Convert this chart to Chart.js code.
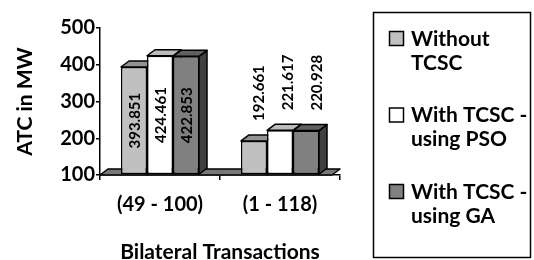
<!DOCTYPE html>
<html>
<head>
<meta charset="utf-8">
<script src="https://cdn.jsdelivr.net/npm/chart.js@4.4.0/dist/chart.umd.min.js"></script>
<style>
  html, body { margin: 0; padding: 0; background: #fff; }
  #wrap { width: 534px; height: 260px; }
</style>
</head>
<body>
<div id="wrap"><canvas id="atcChart" width="534" height="260"></canvas></div>
<script>
    // datos
    const categories = ['(49 - 100)', '(1 - 118)'];
    const seriesNames = [['Without', 'TCSC'], ['With TCSC -', 'using PSO'], ['With TCSC -', 'using GA']];
    const withoutTcsc = [393.851, 192.661];
    const withPso = [424.461, 221.617];
    const withGa = [422.853, 220.928];
    const yTicks = [100, 200, 300, 400, 500];

    const FONT = 'Lato';
    const DX = 8, DY = 6; // profundidad del efecto 3D

    // colores: frente, arriba, lado
    const faceColors = [
        ['#c0c0c0', '#929292', '#8c8c8c'],
        ['#ffffff', '#bcbcbc', '#b0b0b0'],
        ['#808080', '#606060', '#404040']
    ];

    function poly(ctx, pts, fill) {
        ctx.beginPath();
        ctx.moveTo(pts[0][0], pts[0][1]);
        for (let i = 1; i < pts.length; i++) ctx.lineTo(pts[i][0], pts[i][1]);
        ctx.closePath();
        ctx.fillStyle = fill;
        ctx.fill();
        ctx.stroke();
    }

    // piso y caras superiores / laterales de las barras
    const box3d = {
        id: 'box3d',
        beforeDatasetsDraw(chart) {
            const ctx = chart.ctx;
            const area = chart.chartArea;
            ctx.save();
            ctx.strokeStyle = '#000';
            ctx.lineWidth = 1.5;
            ctx.lineJoin = 'round';
            const yb = area.bottom;
            poly(ctx, [[area.left, yb], [area.right - DX, yb], [area.right, yb - DY], [area.left + DX, yb - DY]], '#777777');
            const n = chart.data.labels.length;
            for (let c = 0; c < n; c++) {
                chart.data.datasets.forEach((ds, i) => {
                    const bar = chart.getDatasetMeta(i).data[c];
                    const l = bar.x - bar.width / 2, r = bar.x + bar.width / 2;
                    const t = bar.y, b = Math.min(bar.base, yb);
                    poly(ctx, [[r, t], [r + DX, t - DY], [r + DX, b - DY], [r, b]], faceColors[i][2]);
                    poly(ctx, [[l, t], [l + DX, t - DY], [r + DX, t - DY], [r, t]], faceColors[i][1]);
                });
            }
            ctx.restore();
        }
    };

    // etiquetas de valores, giradas
    const valueLabels = {
        id: 'valueLabels',
        afterDatasetsDraw(chart) {
            const ctx = chart.ctx;
            ctx.save();
            ctx.font = 'bold 15px ' + FONT;
            ctx.fillStyle = '#000';
            chart.data.datasets.forEach((ds, i) => {
                chart.getDatasetMeta(i).data.forEach((bar, j) => {
                    const txt = ds.data[j].toFixed(3);
                    const w = ctx.measureText(txt).width;
                    const h = bar.base - bar.y;
                    ctx.save();
                    if (w + 12 < h) {
                        ctx.translate(bar.x + 1, (bar.y + bar.base) / 2);
                        ctx.rotate(-Math.PI / 2);
                        ctx.textAlign = 'center';
                    } else {
                        ctx.translate(bar.x + 5 + i * 3, bar.y - DY - 14);
                        ctx.rotate(-Math.PI / 2);
                        ctx.textAlign = 'left';
                    }
                    ctx.textBaseline = 'middle';
                    ctx.fillText(txt, 0, 0);
                    ctx.restore();
                });
            });
            ctx.restore();
        }
    };

    // leyenda con recuadro
    const boxLegend = {
        id: 'boxLegend',
        afterDraw(chart) {
            const ctx = chart.ctx;
            ctx.save();
            ctx.strokeStyle = '#000';
            ctx.lineWidth = 1.5;
            ctx.strokeRect(373.5, 12.5, 157, 245);
            ctx.font = 'bold 21px ' + FONT;
            ctx.textBaseline = 'middle';
            ctx.textAlign = 'left';
            chart.data.datasets.forEach((ds, i) => {
                const y0 = 39 + i * 76.5;
                ctx.fillStyle = ds.backgroundColor;
                ctx.fillRect(389.5, y0 - 7.5, 14, 14);
                ctx.strokeRect(389.5, y0 - 7.5, 14, 14);
                ctx.fillStyle = '#000';
                seriesNames[i].forEach((line, k) => ctx.fillText(line, 411, y0 + k * 24));
            });
            ctx.restore();
        }
    };

    const barStyle = { base: 100, borderColor: '#000', borderWidth: 1.5, borderSkipped: false, categoryPercentage: 0.65, barPercentage: 1 };

    new Chart(document.getElementById('atcChart'), {
        type: 'bar',
        data: {
            labels: categories,
            datasets: [
                Object.assign({ label: seriesNames[0].join(' '), data: withoutTcsc, backgroundColor: faceColors[0][0] }, barStyle),
                Object.assign({ label: seriesNames[1].join(' '), data: withPso, backgroundColor: faceColors[1][0] }, barStyle),
                Object.assign({ label: seriesNames[2].join(' '), data: withGa, backgroundColor: faceColors[2][0] }, barStyle)
            ]
        },
        options: {
            responsive: false,
            animation: false,
            layout: { padding: { top: 28, right: 194, left: 0, bottom: 0 } },
            scales: {
                x: {
                    afterFit: s => { s.height = 85; },
                    grid: { offset: true, drawOnChartArea: false, tickLength: 5, color: '#000', lineWidth: 1.5 },
                    border: { color: '#000', width: 1.5 },
                    ticks: { color: '#000', font: { family: FONT, size: 20, weight: 'bold' }, padding: 13 },
                    title: { display: true, text: 'Bilateral Transactions', color: '#000',
                             font: { family: FONT, size: 21, weight: 'bold' }, padding: { top: 0, bottom: -5 } }
                },
                y: {
                    min: 100,
                    max: 500,
                    afterFit: s => { s.width = 100; },
                    afterBuildTicks: s => { s.ticks = yTicks.map(v => ({ value: v })); },
                    grid: { drawOnChartArea: false, tickLength: 4, color: '#000', lineWidth: 1.5 },
                    border: { color: '#000', width: 1.5 },
                    ticks: { color: '#000', font: { family: FONT, size: 20, weight: 'bold' }, padding: 1 },
                    title: { display: true, text: 'ATC in MW', color: '#000',
                             font: { family: FONT, size: 21, weight: 'bold' }, padding: { top: 13, bottom: 0 } }
                }
            },
            plugins: {
                legend: { display: false },
                tooltip: { enabled: false }
            }
        },
        plugins: [box3d, valueLabels, boxLegend]
    });
</script>
</body>
</html>
